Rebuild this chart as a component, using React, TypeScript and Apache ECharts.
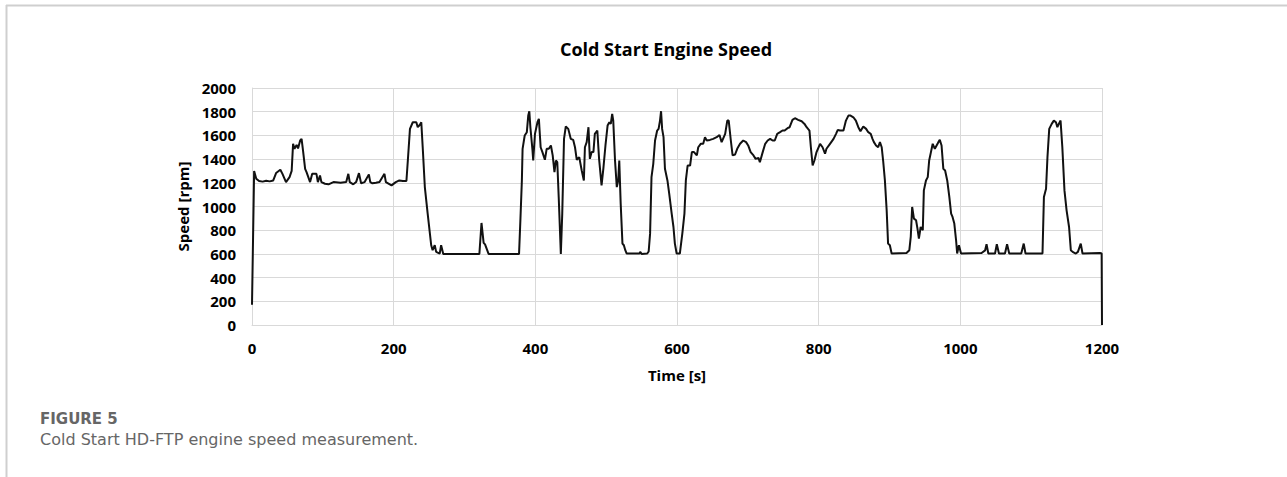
import React, { useEffect, useRef } from "react";
import * as echarts from "echarts";

const chartTitle = "Cold Start Engine Speed";
const xAxisName = "Time [s]";
const yAxisName = "Speed [rpm]";
const figureLabel = "FIGURE 5";
const figureCaption = "Cold Start HD-FTP engine speed measurement.";

const xTicks = [0, 200, 400, 600, 800, 1000, 1200];
const yTicks = [0, 200, 400, 600, 800, 1000, 1200, 1400, 1600, 1800, 2000];

// time [s]
const timeS: number[] = [
  0, 3, 6, 10, 15, 20, 25, 30, 34, 40, 43, 48, 53, 56, 58, 60, 63, 65, 68, 70, 72, 75, 77, 82, 85, 91, 93, 96, 98,
  103, 108, 115, 125, 133, 136, 138, 143, 147, 151, 154, 159, 165, 167, 170, 175, 180, 187, 189, 197, 203, 208, 213,
  218, 220, 223, 227, 232, 234, 237, 239, 241, 244, 248, 253, 255, 258, 260, 265, 267, 270,
  321, 324, 327, 329, 334, 377, 379, 381, 382, 385, 388, 390, 391.5, 393, 396, 397, 399.5, 403, 405, 407.5, 410,
  413.5, 416, 419, 422, 424.5, 427, 429, 431, 433, 436, 438, 440.5, 443, 446.5, 450, 453.5, 456, 458.5, 462, 465.5,
  468.5, 470, 472.5, 475, 477, 479.5, 482, 484, 487.5, 490, 493.5, 496, 499, 502, 504.5, 506.5, 508.5, 510, 512.5,
  515, 517, 518.5, 520.5, 523, 525, 527, 529, 547, 548, 550, 558, 560, 562, 564, 566.5, 569, 572, 574, 576, 577.5,
  579, 581, 583, 586.5, 589, 592.5, 595, 597, 599.5, 604, 607.5, 610.5, 612.5, 615, 618.5, 621, 624, 628, 630,
  633.5, 637, 639.5, 642, 646.5, 651, 656, 660, 663, 668, 671, 673, 676, 678.5, 682, 685, 689, 693.5, 697.5, 700.5,
  704, 708, 711, 715, 717, 721, 724.5, 728, 731.5, 735, 738, 741.5, 745.5, 749, 752, 756, 759, 763, 766.5, 771,
  776, 780, 783, 787, 789, 791.5, 794, 797, 802, 805.5, 809, 811, 816, 821, 824.5, 827, 830, 835, 838.5, 842, 845,
  849, 852.5, 856, 859, 863, 867, 870, 873.5, 876, 878, 881, 884, 886.5, 889, 891, 893.5, 896, 898, 900.5, 903,
  924, 928, 930, 932, 934.5, 937.5, 939.5, 941.5, 944, 947, 948.5, 951.5, 954, 956, 958.5, 961, 964, 966.5, 969,
  971, 973.5, 976, 978.5, 981.5, 984.5, 987, 989, 991.5, 994, 995.5, 998, 1001, 1030, 1035, 1037, 1039.5, 1049,
  1051.5, 1054.5, 1063, 1066, 1069, 1086, 1089.5, 1092, 1116, 1118, 1121, 1123, 1125.5, 1129, 1132, 1135, 1137,
  1139, 1141.5, 1144, 1147, 1150, 1153.5, 1156, 1158.5, 1163, 1166, 1170, 1172.5, 1197, 1199.5, 1200,
];

// engine speed [rpm]
const speedRpm: number[] = [
  170, 1300, 1235, 1215, 1210, 1218, 1212, 1220, 1282, 1310, 1275, 1206, 1248, 1300, 1529, 1487, 1520, 1490, 1557,
  1571, 1473, 1318, 1290, 1206, 1276, 1276, 1206, 1262, 1206, 1192, 1187, 1206, 1200, 1206, 1276, 1206, 1187, 1206,
  1282, 1196, 1206, 1271, 1206, 1196, 1200, 1206, 1276, 1206, 1178, 1206, 1220, 1215, 1215, 1388, 1655, 1711, 1711,
  1669, 1690, 1711, 1500, 1164, 940, 673, 631, 673, 617, 603, 673, 600,
  600, 861, 693, 680, 600, 600, 900, 1220, 1487, 1599, 1627, 1767, 1804, 1669, 1473, 1388, 1613, 1711, 1739, 1500,
  1459, 1394, 1487, 1487, 1515, 1431, 1290, 1388, 1374, 1080, 600, 940, 1571, 1675, 1655, 1571, 1562, 1500, 1394,
  1416, 1304, 1220, 1500, 1543, 1669, 1402, 1459, 1459, 1613, 1641, 1402, 1178, 1318, 1515, 1683, 1711, 1697, 1781,
  1725, 1388, 1164, 1220, 1388, 1024, 687, 673, 631, 603, 603, 617, 600, 603, 620, 771, 1248, 1360, 1557, 1641,
  1655, 1725, 1804, 1655, 1585, 1318, 1220, 1108, 940, 827, 687, 603, 603, 771, 940, 1220, 1346, 1346, 1459, 1459,
  1431, 1500, 1529, 1529, 1585, 1557, 1562, 1571, 1585, 1604, 1543, 1613, 1725, 1725, 1557, 1431, 1439, 1487, 1529,
  1557, 1543, 1515, 1459, 1431, 1402, 1410, 1374, 1459, 1529, 1557, 1571, 1557, 1557, 1613, 1627, 1641, 1641, 1661,
  1669, 1731, 1745, 1731, 1719, 1697, 1669, 1641, 1500, 1346, 1388, 1459, 1529, 1500, 1445, 1487, 1529, 1571, 1613,
  1647, 1641, 1641, 1725, 1767, 1767, 1753, 1725, 1669, 1635, 1675, 1655, 1627, 1613, 1571, 1543, 1515, 1500, 1543,
  1500, 1388, 1220, 968, 687, 673, 603, 608, 631, 743, 996, 898, 884, 813, 729, 827, 799, 1136, 1220, 1248, 1388,
  1459, 1529, 1487, 1515, 1543, 1562, 1515, 1318, 1304, 1220, 1080, 940, 912, 856, 715, 603, 673, 603, 608, 630,
  682, 603, 603, 682, 603, 603, 682, 603, 603, 687, 603, 603, 1080, 1150, 1416, 1655, 1697, 1725, 1711, 1669, 1697,
  1725, 1500, 1136, 968, 827, 631, 617, 603, 617, 687, 603, 608, 603, 0,
];

export default function App() {
  const ref = useRef<HTMLDivElement>(null);

  useEffect(() => {
    if (!ref.current) return;
    const chart = echarts.init(ref.current, null, { renderer: "svg" });
    const data = timeS.map((t, i) => [t, speedRpm[i]]);
    const gridColor = "#d9d9d9";
    const labelFont = "'Open Sans', 'Liberation Sans', sans-serif";
    const captionFont = "'DejaVu Sans', 'Open Sans', sans-serif";
    const plain = (v: number) => String(v);

    chart.setOption({
      animation: false,
      backgroundColor: "#ffffff",
      title: {
        text: chartTitle,
        left: 661,
        top: 35,
        textAlign: "center",
        textStyle: { fontFamily: labelFont, fontWeight: "bold", fontSize: 18, color: "#000" },
      },
      grid: { left: 252, right: 185, top: 88, bottom: 152, containLabel: false },
      xAxis: {
        type: "value",
        min: xTicks[0],
        max: xTicks[xTicks.length - 1],
        interval: xTicks[1] - xTicks[0],
        name: xAxisName,
        nameLocation: "middle",
        nameGap: 42,
        nameTextStyle: { fontFamily: labelFont, fontWeight: "bold", fontSize: 15, color: "#000" },
        axisLine: { show: true, lineStyle: { color: gridColor, width: 1 } },
        axisTick: { show: false },
        axisLabel: { fontFamily: labelFont, fontWeight: "bold", fontSize: 15, color: "#000", margin: 15, formatter: plain },
        splitLine: { show: true, lineStyle: { color: gridColor, width: 1 } },
      },
      yAxis: {
        type: "value",
        min: yTicks[0],
        max: yTicks[yTicks.length - 1],
        interval: yTicks[1] - yTicks[0],
        name: yAxisName,
        nameLocation: "middle",
        nameGap: 57,
        nameTextStyle: { fontFamily: labelFont, fontWeight: "bold", fontSize: 15, color: "#000" },
        axisLine: { show: true, lineStyle: { color: gridColor, width: 1 } },
        axisTick: { show: false },
        axisLabel: { fontFamily: labelFont, fontWeight: "bold", fontSize: 15, color: "#000", margin: 16, formatter: plain },
        splitLine: { show: true, lineStyle: { color: gridColor, width: 1 } },
      },
      series: [
        {
          type: "line",
          data,
          showSymbol: false,
          symbol: "none",
          lineStyle: { color: "#111111", width: 2 },
        },
      ],
      graphic: [
        { type: "line", shape: { x1: 6, y1: 5.5, x2: 1287, y2: 5.5 }, style: { stroke: "#cfcfcf", lineWidth: 2 } },
        { type: "line", shape: { x1: 6.5, y1: 5, x2: 6.5, y2: 477 }, style: { stroke: "#cfcfcf", lineWidth: 2 } },
        {
          type: "text",
          left: 40,
          top: 411,
          style: { text: figureLabel, fontFamily: captionFont, fontWeight: "bold", fontSize: 15, fill: "#666666" },
        },
        {
          type: "text",
          left: 40,
          top: 431,
          style: { text: figureCaption, fontFamily: captionFont, fontSize: 16, fill: "#666666" },
        },
      ],
    });

    return () => chart.dispose();
  }, []);

  return (
    <div
      ref={ref}
      style={{ position: "absolute", left: 0, top: 0, width: 1287, height: 477, background: "#fff" }}
    />
  );
}
